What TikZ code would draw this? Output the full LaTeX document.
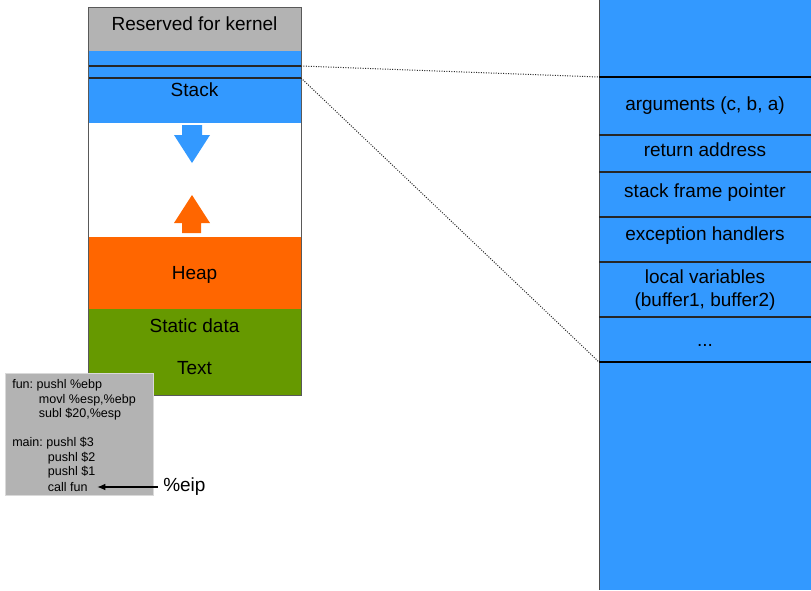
\documentclass[tikz,border=0pt]{standalone}
\usepackage{fontspec}
\setmainfont{Liberation Sans}
\usetikzlibrary{calc}
\usetikzlibrary{arrows.meta}
\definecolor{stackblue}{HTML}{3399FF}
\definecolor{heaporange}{HTML}{FF6600}
\definecolor{textgreen}{HTML}{669900}
\definecolor{kernelgray}{HTML}{B3B3B3}
\frenchspacing
\begin{document}
\begin{tikzpicture}[x=0.75pt,y=-0.75pt,
    lbl/.style={font=\fontsize{14.25}{17.25}\selectfont, align=center, inner sep=1pt},
    code/.style={font=\fontsize{9.4}{11}\selectfont, anchor=west, inner sep=0pt},
    slot/.style={black!85, line width=0.9pt},
    border/.style={black, line width=1.9pt}]
        \useasboundingbox (0,0) rectangle (811,590);
        % memory layout
        \fill[kernelgray] (88,7) rectangle (301,51);
        \fill[stackblue] (88,51) rectangle (301,123);
        \fill[heaporange] (88,237) rectangle (301,309);
        \fill[textgreen] (88,309) rectangle (301,395);
        \draw[slot] (88,66) -- (301,66);
        \draw[slot] (88,78) -- (301,78);
        \draw[black!65, line width=0.75pt] (88,7) rectangle (301,395);
        % growth arrows
        \fill[stackblue] (182,125) -- (202,125) -- (202,135) -- (210,135) -- (192,163)
            -- (174,135) -- (182,135) -- cycle;
        \fill[heaporange] (182,233) -- (201,233) -- (201,223) -- (210,223) -- (192,195)
            -- (174,223) -- (182,223) -- cycle;
        \node[lbl] (kernel) at (194.5,24) {Reserved for kernel};
        \node[lbl] (stack) at (194.5,90) {Stack};
        \node[lbl] (heap) at (194.5,275) {Heap};
        \node[lbl] (static) at (194.5,326) {Static data};
        \node[lbl] (text) at (194.5,368) {Text};

        % stack frame
        \fill[stackblue] (599,0) rectangle (811,590);
        \draw[black!70, line width=0.75pt] (599,0) -- (599,590);
        \draw[border] (599,77) -- (811,77);
        \draw[border] (599,362) -- (811,362);
        \foreach \y in {135,172,217,262,317}
            \draw[slot] (599,\y) -- (811,\y);
        \node[lbl] (args) at (705,106) {arguments (c, b, a)};
        \node[lbl] (ret) at (705,150) {return address};
        \node[lbl] (sfp) at (705,193) {stack frame pointer};
        \node[lbl] (exc) at (705,236) {exception handlers};
        \node[lbl] (locals) at (705,290) {local variables\\(buffer1, buffer2)};
        \node[lbl] (dots) at (705,345) {...};

        % zoom lines
        \coordinate (s1) at (301,66);
        \coordinate (s2) at (301,78);
        \coordinate (f1) at (599,77);
        \coordinate (f2) at (599,362);
        \draw[black!85, line width=0.75pt, dash pattern=on 0.75pt off 1.1pt] (s1) -- (f1);
        \draw[black!85, line width=0.75pt, dash pattern=on 0.75pt off 1.1pt] (s2) -- (f2);

        % code
        \draw[fill=kernelgray, draw=black!15] (5,373) rectangle (153,495);
        \node[code] (fun) at (12,385) {fun: pushl \%ebp};
        \node[code] (movl) at (38.7,400) {movl \%esp,\%ebp};
        \node[code] (subl) at (38.7,414) {subl \$20,\%esp};
        \node[code] (main) at (12,443) {main: pushl \$3};
        \node[code] (push2) at (47.7,458) {pushl \$2};
        \node[code] (push1) at (47.7,472) {pushl \$1};
        \node[code] (call) at (47.7,487) {call fun};
        \node[lbl, anchor=west, inner sep=0pt] (eip) at (163,487) {\%eip};
        \draw[-{Latex[length=6pt,width=5pt]}, line width=0.8pt, shorten >=7pt, shorten <=4pt] (eip.west) -- (call.east);
    \end{tikzpicture}
\end{document}
